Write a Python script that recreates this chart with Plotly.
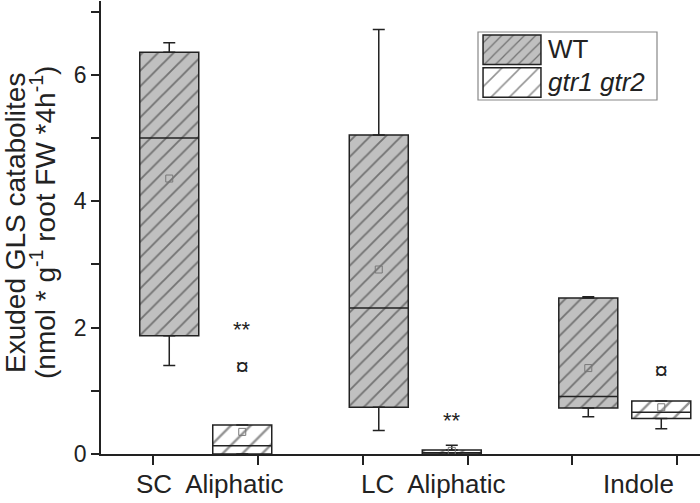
import plotly.graph_objects as go

# ---------------- data ----------------
categories = ["SC  Aliphatic", "LC  Aliphatic", "Indole"]

wt_upper = [6.51, 6.72, 2.49]
wt_q3 = [6.36, 5.05, 2.47]
wt_median = [5.00, 2.31, 0.91]
wt_mean = [4.36, 2.92, 1.36]
wt_q1 = [1.87, 0.74, 0.73]
wt_lower = [1.40, 0.37, 0.59]

mut_upper = [0.46, 0.14, 0.84]
mut_q3 = [0.46, 0.063, 0.84]
mut_median = [0.13, 0.02, 0.66]
mut_mean = [0.35, 0.05, 0.74]
mut_q1 = [0.0, 0.0, 0.56]
mut_lower = [0.0, 0.0, 0.40]
mut_outlier = [1.34, None, 1.28]

sig_text = ["**", "**", ""]
sig_y = [1.99, 0.55, None]

y_title_lines = ["Exuded GLS catabolites",
                 "(nmol * g<sup>-1</sup> root FW *4h<sup>-1</sup>)"]

# ---------------- style ----------------
FONT = "Liberation Sans, Arial, sans-serif"
INK = "#222222"
HATCH = "#262626"
OFF = 0.1742
BW = 0.2816
WT_FILL = "#c0c0c0"

pos = [i + 1 for i in range(len(categories))]
x_wt = [p - OFF for p in pos]
x_mut = [p + OFF for p in pos]

fig = go.Figure()


def add_box(xs, q1, q3, med, mean, lo, hi, fill, psize, name):
    fig.add_trace(go.Bar(
        x=xs, y=[b - a for a, b in zip(q1, q3)], base=q1, width=BW,
        marker=dict(color=fill, line=dict(color=INK, width=1.5),
                    pattern=dict(shape="/", size=psize, solidity=0.17,
                                 fgcolor=HATCH, bgcolor=fill,
                                 fillmode="overlay")),
        showlegend=False, name=name, hoverinfo="skip"))
    # upper whisker
    fig.add_trace(go.Scatter(
        x=xs, y=q3, mode="markers", marker=dict(size=1, color="rgba(0,0,0,0)"),
        error_y=dict(type="data", symmetric=False,
                     array=[h - b for h, b in zip(hi, q3)],
                     arrayminus=[0] * len(q3), color=INK, thickness=1.5, width=6),
        showlegend=False, hoverinfo="skip"))
    # lower whisker
    fig.add_trace(go.Scatter(
        x=xs, y=q1, mode="markers", marker=dict(size=1, color="rgba(0,0,0,0)"),
        error_y=dict(type="data", symmetric=False,
                     array=[0] * len(q1),
                     arrayminus=[a - l for a, l in zip(q1, lo)],
                     color=INK, thickness=1.5, width=6),
        showlegend=False, hoverinfo="skip"))
    # median
    fig.add_trace(go.Scatter(
        x=xs, y=med, mode="markers", marker=dict(size=1, color="rgba(0,0,0,0)"),
        error_x=dict(type="constant", value=BW / 2, color=INK, thickness=1.5, width=0),
        showlegend=False, hoverinfo="skip"))
    # mean
    fig.add_trace(go.Scatter(
        x=xs, y=mean, mode="markers",
        marker=dict(symbol="square-open", size=7, color="#777777", line=dict(width=1)),
        showlegend=False, hoverinfo="skip"))


add_box(x_wt, wt_q1, wt_q3, wt_median, wt_mean, wt_lower, wt_upper, WT_FILL, 11, "WT")
add_box(x_mut, mut_q1, mut_q3, mut_median, mut_mean, mut_lower, mut_upper, "white", 14, "gtr1 gtr2")

# outliers
out_x = [xv for xv, v in zip(x_mut, mut_outlier) if v is not None]
out_y = [v for v in mut_outlier if v is not None]
fig.add_trace(go.Scatter(
    x=out_x, y=out_y, mode="text", text=["¤"] * len(out_y),
    textfont=dict(family=FONT, size=24, color=INK), textposition="middle center",
    showlegend=False, hoverinfo="skip"))

# significance markers
for xv, yv, t in zip(x_mut, sig_y, sig_text):
    if yv is None or not t:
        continue
    fig.add_annotation(x=xv, y=yv, text=t, showarrow=False, yshift=-1,
                       font=dict(family=FONT, size=22, color=INK),
                       xanchor="center", yanchor="middle")

# category labels
label_shift = [4, 18, 14]
for p, c, s in zip(pos, categories, label_shift):
    fig.add_annotation(x=p, y=0, xref="x", yref="y", text=c, showarrow=False,
                       xshift=s, yshift=-30, xanchor="center", yanchor="middle",
                       font=dict(family=FONT, size=26, color=INK))

W, H = 599.0, 453.0
L, B = 101.0, 454.0


def px(xp):
    return (xp - L) / W


def py(yp):
    return (B - yp) / H


# y-axis title (two lines)
for line, xc in zip(y_title_lines, [16, 43]):
    fig.add_annotation(
        xref="paper", yref="paper", x=px(xc), y=py(223), textangle=-90,
        text=line, showarrow=False, xanchor="center", yanchor="middle",
        font=dict(family=FONT, size=28, color=INK))

# ---------------- legend (inset) ----------------
fig.add_trace(go.Bar(
    y=["mut"], x=[1], orientation="h", xaxis="x2", yaxis="y2", width=0.9,
    marker=dict(color="white", line=dict(color=INK, width=1.5),
                pattern=dict(shape="/", size=13, solidity=0.12, fgcolor=HATCH,
                             bgcolor="white", fillmode="overlay")),
    showlegend=False, hoverinfo="skip"))
fig.add_trace(go.Bar(
    y=["wt"], x=[1], orientation="h", xaxis="x2", yaxis="y2", width=0.9,
    marker=dict(color=WT_FILL, line=dict(color=INK, width=1.5),
                pattern=dict(shape="/", size=8, solidity=0.16, fgcolor=HATCH,
                             bgcolor=WT_FILL, fillmode="overlay")),
    showlegend=False, hoverinfo="skip"))

fig.add_shape(type="rect", xref="paper", yref="paper",
              x0=px(478), x1=px(657), y0=py(100), y1=py(32),
              line=dict(color="#888888", width=1.2), fillcolor="rgba(0,0,0,0)")
fig.add_annotation(xref="paper", yref="paper", x=px(546), y=py(49), text="WT",
                   showarrow=False, xanchor="left", yanchor="middle",
                   font=dict(family=FONT, size=26, color=INK))
fig.add_annotation(xref="paper", yref="paper", x=px(546), y=py(82), text="<i>gtr1 gtr2</i>",
                   showarrow=False, xanchor="left", yanchor="middle",
                   font=dict(family=FONT, size=26, color=INK))

fig.update_layout(
    width=700, height=503,
    margin=dict(l=101, r=0, t=1, b=49),
    paper_bgcolor="white", plot_bgcolor="white",
    barmode="overlay", showlegend=False,
    font=dict(family=FONT, color=INK),
    xaxis=dict(range=[0.5, 3.359], showgrid=False, zeroline=False,
               showline=True, linecolor=INK, linewidth=1.5,
               tickvals=[0.75, 1.25, 1.75, 2.25, 2.75, 3.25], showticklabels=False,
               ticks="outside", ticklen=9, tickwidth=1.5, tickcolor=INK),
    yaxis=dict(range=[0, 7.17], showgrid=False, zeroline=False,
               showline=True, linecolor=INK, linewidth=1.5,
               tickvals=[0, 2, 4, 6], ticks="outside", ticklen=8, tickwidth=1.5,
               tickcolor=INK, tickfont=dict(family=FONT, size=23, color=INK),
               minor=dict(tickvals=[1, 3, 5, 7], ticks="outside", ticklen=8,
                          tickwidth=1.5, tickcolor=INK)),
    xaxis2=dict(domain=[px(481.3), px(542.7)], range=[-0.03, 1.03], anchor="y2",
                visible=False, fixedrange=True),
    yaxis2=dict(domain=[py(98.9), py(33.4)], anchor="x2", visible=False,
                categoryorder="array", categoryarray=["mut", "wt"], fixedrange=True),
)

fig.write_html("out.html", config={"displayModeBar": False},
               post_script="document.body.style.margin='0';")
